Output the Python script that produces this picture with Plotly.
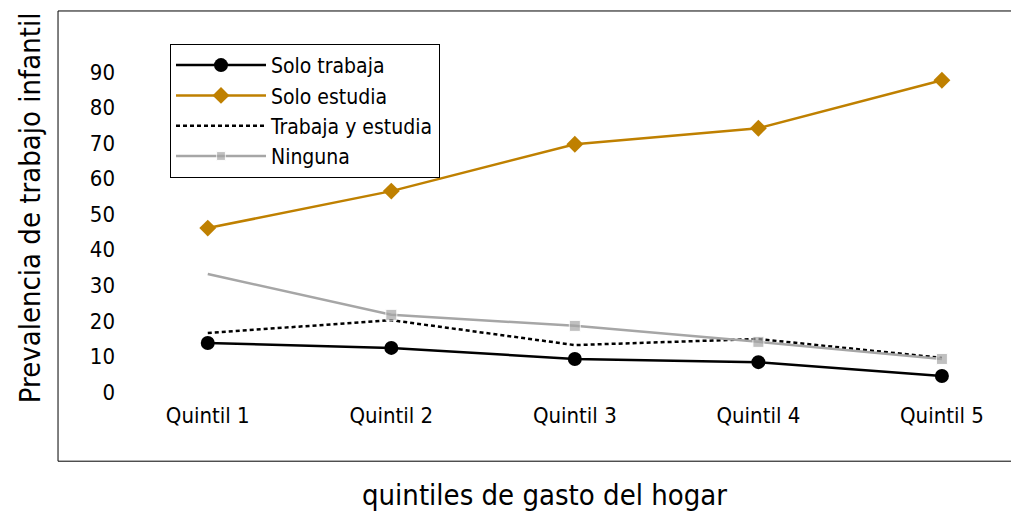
import plotly.graph_objects as go

# datos
quintiles = ["Quintil 1", "Quintil 2", "Quintil 3", "Quintil 4", "Quintil 5"]
solo_trabaja = [13.8, 12.4, 9.3, 8.4, 4.5]
solo_estudia = [46.1, 56.5, 69.7, 74.2, 87.7]
trabaja_estudia = [16.6, 20.2, 13.2, 14.9, 9.6]
ninguna = [33.2, 21.7, 18.6, 14.1, 9.3]

FONT = "DejaVu Sans Condensed, DejaVu Sans, sans-serif"
GOLD = "#BF8000"
GREY = "#A6A6A6"

fig = go.Figure()

fig.add_trace(go.Scatter(
    x=quintiles, y=solo_trabaja, name="Solo trabaja", mode="lines+markers",
    line=dict(color="black", width=2.5),
    marker=dict(symbol="circle", size=14, color="black"),
))
fig.add_trace(go.Scatter(
    x=quintiles, y=solo_estudia, name="Solo estudia", mode="lines+markers",
    line=dict(color=GOLD, width=2.5),
    marker=dict(symbol="diamond", size=13, color=GOLD),
))
fig.add_trace(go.Scatter(
    x=quintiles, y=trabaja_estudia, name="Trabaja y estudia", mode="lines",
    line=dict(color="black", width=2.5, dash="4px,3px"),
))
fig.add_trace(go.Scatter(
    x=quintiles, y=ninguna, name="Ninguna", mode="lines+markers",
    line=dict(color=GREY, width=2.5),
    marker=dict(symbol="square", size=[0, 11, 11, 11, 11], color=GREY),
))

# marco: solo arriba, izquierda y abajo
frame = dict(type="line", xref="paper", yref="paper",
             line=dict(color="black", width=1))
x_left, x_right = -0.0642, 1.0
y_bot, y_top = -0.17, 1.0806

# la pagina tiene 8px de margen en el body, se compensa aqui
fig.update_layout(
    width=1011, height=505,
    margin=dict(l=108, r=0, t=32, b=113),
    paper_bgcolor="white", plot_bgcolor="white",
    font=dict(family=FONT, size=22, color="black"),
    showlegend=True,
    legend=dict(
        x=0.0598, y=0.989, xanchor="left", yanchor="top",
        bordercolor="black", borderwidth=1, bgcolor="white",
        font=dict(size=21), itemwidth=90, tracegroupgap=0,
    ),
    xaxis=dict(
        type="category", range=[-0.5, 4.42], showgrid=False, zeroline=False,
        showline=False, ticks="", tickfont=dict(size=22),
    ),
    yaxis=dict(
        range=[-2.25, 99], dtick=10, tick0=0, showgrid=False, zeroline=False,
        showline=False, ticks="", tickfont=dict(size=22),
    ),
    shapes=[
        dict(frame, x0=x_left, x1=x_right, y0=y_top, y1=y_top),
        dict(frame, x0=x_left, x1=x_left, y0=y_bot, y1=y_top),
        dict(frame, x0=x_left, x1=x_right, y0=y_bot, y1=y_bot),
    ],
    annotations=[
        dict(text="Prevalencia de trabajo infantil", xref="paper", yref="paper",
             x=-0.0952, y=0.533, textangle=-90, showarrow=False,
             xanchor="center", yanchor="middle", font=dict(size=29)),
        dict(text="quintiles de gasto del hogar", xref="paper", yref="paper",
             x=0.475, y=-0.264, showarrow=False,
             xanchor="center", yanchor="middle", font=dict(size=29)),
    ],
)

fig.write_html("out.html")
